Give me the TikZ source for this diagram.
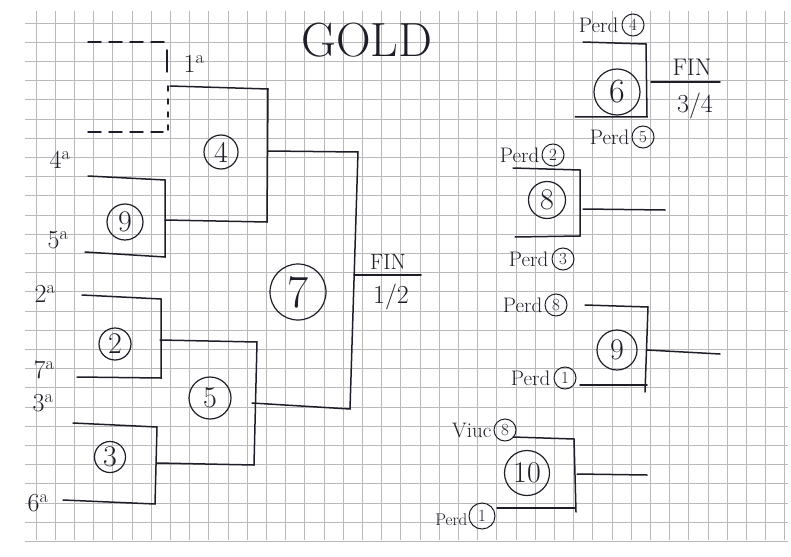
\documentclass[tikz,border=0pt]{standalone}
\usepackage{tikz}
\usetikzlibrary{positioning}

\definecolor{inkc}{RGB}{30,30,40}
\definecolor{gridc}{RGB}{185,185,185}

\begin{document}
\begin{tikzpicture}[x=1pt,y=-1pt,
    gridline/.style={gridc,line width=0.7pt},
    ink/.style={inkc,line width=1.5pt,line cap=round},
    match/.style={draw=inkc,line width=1.2pt,circle,inner sep=0pt,text=inkc,font=\fontsize{30}{30}\selectfont},
    seedl/.style={text=inkc,font=\fontsize{26}{26}\selectfont,inner sep=0pt},
    perd/.style={text=inkc,font=\fontsize{21}{21}\selectfont,inner sep=0pt},
    small/.style={draw=inkc,line width=1pt,circle,inner sep=0pt,minimum size=22pt,text=inkc,font=\fontsize{17}{17}\selectfont}]
  \useasboundingbox (0,0) rectangle (791,556);

  % Paper grid
  \foreach \i in {0,...,39} \draw[gridline] ({36+19.2*\i},11) -- ({36+19.2*\i},540);
  \foreach \j in {0,...,27} \draw[gridline] (25,{23+19.2*\j}) -- (788,{23+19.2*\j});

  % Title
  \node[text=inkc,font=\fontsize{48}{48}\selectfont] (title) at (367,40) {GOLD};

  % Seed 1 (bye)
  \draw[ink,dash pattern=on 13pt off 8pt] (88,42) -- (165,42);
  \draw[ink] (167,50) -- (167,72);
  \node[seedl] (s1) at (194,64) {1\textsuperscript{a}};
  \draw[ink,dash pattern=on 5pt off 8pt] (168,86) -- (168,130);
  \draw[ink,dash pattern=on 13pt off 8pt] (88,132) -- (163,132);

  % Match 9 (4a - 5a)
  \node[seedl] (s4) at (60,160) {4\textsuperscript{a}};
  \node[seedl] (s5) at (58,240) {5\textsuperscript{a}};
  \draw[ink] (88,176) -- (165,180) -- (165,257) -- (85,252);
  \node[match,minimum width=28pt,minimum height=36pt] (m9) at (125,222) {9};

  % Match 4
  \draw[ink] (170,86) -- (268,89) -- (267,222) -- (165,220);
  \node[match,minimum width=30pt,minimum height=34pt] (m4) at (221,152) {4};

  % Match 2 (2a - 7a)
  \node[seedl] (s2) at (45,294) {2\textsuperscript{a}};
  \node[seedl] (s7) at (44,370) {7\textsuperscript{a}};
  \draw[ink] (82,295) -- (161,299) -- (161,378) -- (77,377);
  \node[match,minimum width=30pt,minimum height=32pt] (m2) at (115,344) {2};

  % Match 3 (3a - 6a)
  \node[seedl] (s3) at (43,403) {3\textsuperscript{a}};
  \node[seedl] (s6) at (38,503) {6\textsuperscript{a}};
  \draw[ink] (73,423) -- (157,427) -- (155,504) -- (63,500);
  \node[match,minimum width=31pt,minimum height=31pt] (m3) at (110,457) {3};

  % Match 5
  \draw[ink] (160,340) -- (257,342) -- (254,465) -- (157,463);
  \node[match,minimum width=32pt,minimum height=42pt] (m5) at (210,398) {5};

  % Match 7 (final 1/2)
  \draw[ink] (268,151) -- (358,152) -- (350,409) -- (252,403);
  \node[match,minimum width=46pt,minimum height=56pt,font=\fontsize{46}{46}\selectfont] (m7) at (298,292) {7};
  \draw[ink] (354,275) -- (421,275);
  \node[seedl,font=\fontsize{22}{22}\selectfont] (fin1) at (388,262) {FIN};
  \node[seedl] (half) at (391,297) {1/2};

  % Match 6 (final 3/4)
  \node[small] (c4) at (633,25) {4};
  \node[perd,left=3pt of c4] (p4) {Perd};
  \draw[ink] (583,42) -- (646,44) -- (647,117) -- (575,117);
  \node[match,minimum width=40pt,minimum height=46pt,font=\fontsize{34}{34}\selectfont] (m6) at (617,92) {6};
  \draw[ink] (651,82) -- (720,82);
  \node[seedl,font=\fontsize{24}{24}\selectfont] (fin2) at (692,67) {FIN};
  \node[seedl] (quart) at (695,106) {3/4};
  \node[small] (c5) at (643,137) {5};
  \node[perd,left=2pt of c5] (p5) {Perd};

  % Match 8
  \node[small] (c2) at (553,155) {2};
  \node[perd,left=2pt of c2] (p2) {Perd};
  \draw[ink] (513,168) -- (580,170) -- (580,236) -- (515,237);
  \node[match,minimum width=32pt,minimum height=37pt] (m8) at (547,200) {8};
  \draw[ink] (583,209) -- (665,210);
  \node[small] (c3) at (563,259) {3};
  \node[perd,left=3pt of c3] (p3) {Perd};

  % Match 9 (losers)
  \node[small] (c8) at (556,305) {8};
  \node[perd,left=2pt of c8] (p8) {Perd};
  \draw[ink] (585,305) -- (648,307) -- (645,392);
  \draw[ink] (580,385) -- (647,385);
  \node[match,minimum width=35pt,minimum height=40pt] (m9b) at (617,350) {9};
  \draw[ink] (647,350) -- (720,354);
  \node[small] (c1) at (565,378) {1};
  \node[perd,left=3pt of c1] (p1) {Perd};

  % Match 10
  \node[small] (c8b) at (505,430) {8};
  \node[perd,left=2pt of c8b] (v8) {Viuc};
  \draw[ink] (513,437) -- (574,439) -- (576,512);
  \draw[ink] (497,508) -- (575,508);
  \node[match,minimum width=42pt,minimum height=45pt] (m10) at (527,473) {10};
  \draw[ink] (577,474) -- (647,475);
  \node[small,minimum height=26pt] (c1b) at (482,516) {1};
  \node[perd,left=1pt of c1b,yshift=-4pt,font=\fontsize{17}{17}\selectfont] (p1b) {Perd};
\end{tikzpicture}
\end{document}
